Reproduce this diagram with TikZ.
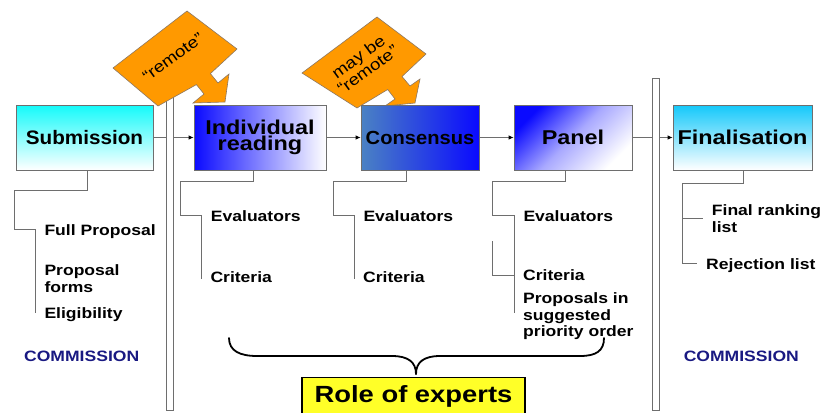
\documentclass[tikz,border=0pt]{standalone}
\usepackage{fontspec}
\setmainfont{Liberation Sans}[FakeStretch=1.17]
\newfontfamily\narrowsans{Liberation Sans}[FakeStretch=1.06]
\usetikzlibrary{arrows.meta}
\definecolor{orangefill}{RGB}{255,153,0}
\definecolor{orangeline}{RGB}{140,120,100}
\definecolor{boxline}{RGB}{110,110,110}
\definecolor{treeline}{RGB}{110,110,110}
\definecolor{commblue}{RGB}{25,25,130}
\definecolor{cyanA}{RGB}{20,250,250}
\definecolor{skyA}{RGB}{20,200,250}
\definecolor{steelA}{RGB}{75,130,195}
\definecolor{blueA}{RGB}{10,10,255}
\definecolor{yellowA}{RGB}{255,255,40}
\begin{document}
\begin{tikzpicture}[x=1pt,y=-1pt,
  stage/.style={draw=boxline, line width=0.8pt, minimum height=65pt, inner sep=0pt, align=center,
    font=\bfseries\fontsize{20}{16.5}\selectfont},
  bar/.style={draw=boxline, fill=white, line width=0.8pt, minimum width=7pt, inner sep=0pt},
  conn/.style={draw=treeline, line width=0.8pt},
  arr/.style={-{Latex[length=5pt,width=4.5pt,color=black]}},
  tree/.style={draw=treeline, line width=0.8pt},
  lbl/.style={anchor=base west, inner sep=0pt, font=\bfseries\fontsize{15}{16.7}\selectfont},
  mlbl/.style={anchor=north west, inner sep=0pt, align=left, font=\bfseries\fontsize{15}{16.7}\selectfont},
  comm/.style={anchor=base, inner sep=0pt, text=commblue, font=\bfseries\fontsize{15}{16.7}\selectfont},
  callout/.style={fill=orangefill, draw=orangeline, line width=0.6pt, line join=miter},
  callouttext/.style={inner sep=0pt, align=center, rotate=36, font=\fontsize{16}{16}\selectfont},
  rolebox/.style={draw=black, line width=1.3pt, fill=yellowA, minimum width=223pt, minimum height=38pt,
    inner sep=0pt, font=\bfseries\fontsize{23.4}{24}\selectfont},
  bracestyle/.style={draw=black, line width=1.8pt, line cap=round}
]
\useasboundingbox (0,0) rectangle (826,412);

% double bars
\node[bar, minimum height=315pt] (bar1) at (170.2,252.5) {};
\node[bar, minimum height=332pt] (bar2) at (655.5,244) {};

% orange callouts
\draw[callout] (113,68) -- (187,11) -- (237,49) -- (210.4,73.6) -- (218,83) -- (229,74)
  -- (225,102) -- (193,103) -- (204,94) -- (196.4,84.6) -- (158,106) -- cycle;
\node[callouttext] (remote1) at (173,57) {“remote”};

\draw[callout] (302,73) -- (377,17) -- (426,54) -- (402,76.5) -- (410,86) -- (420,79)
  -- (415,103) -- (385,106) -- (395,99) -- (387.7,89.5) -- (357,108) -- cycle;
\node[callouttext] (remote2) at (363,63) {may be\\“remote”};

% stage boxes
\node[stage, minimum width=137pt, top color=cyanA, bottom color=white] (sub) at (84.5,137.5)
  {\narrowsans\fontsize{19.5}{20}\selectfont Submission};
\node[stage, minimum width=132pt, left color=blueA, right color=white, middle color=blueA!50!white] (ind) at (260,137.5)
  {Individual\\reading};
\node[stage, minimum width=118pt, left color=steelA, right color=blueA] (cons) at (420,137.5)
  {\narrowsans\fontsize{19}{20}\selectfont Consensus};
\node[stage, minimum width=118pt, top color=blueA, bottom color=white, middle color=blueA!35!white, shading angle=45] (pan) at (573,137.5)
  {Panel};
\node[stage, minimum width=139pt, top color=skyA, bottom color=white] (fin) at (742.5,137.5)
  {Finalisation};

% main connectors
\draw[conn] (sub.east) -- (sub.east -| bar1.west);
\draw[conn, arr] (sub.east -| bar1.east) -- (ind.west);
\draw[conn, arr] (ind.east) -- (cons.west);
\draw[conn, arr] (cons.east) -- (pan.west);
\draw[conn] (pan.east) -- (pan.east -| bar2.west);
\draw[conn, arr] (pan.east -| bar2.east) -- (fin.west);

% tree lines
\draw[tree] ([xshift=2.5pt]sub.south) |- (14,190) |- (35,229) -- (35,313);
\draw[tree] ([xshift=-6.7pt]ind.south) |- (180,181.7) |- (201.7,215.7) -- (201.7,279);
\draw[tree] ([xshift=-14pt]cons.south) |- (333.3,181.7) |- (354.3,215.7) -- (354.3,279);
\draw[tree] ([xshift=-7.3pt]pan.south) |- (492.7,181.7) |- (514,215.7) -- (514,313.3);
\draw[tree] (492.7,241) |- (514,275);
\draw[tree] ([xshift=1pt]fin.south) |- (682.3,183.3) |- (696.7,263.3);
\draw[tree] (682.3,218.3) -- (703.3,218.3);

% labels
\node[lbl] (fp) at (44.3,235) {Full Proposal};
\node[mlbl] (pf) at (44.3,264.4) {Proposal\\forms};
\node[lbl] (el) at (44.3,318.5) {Eligibility};
\node[comm] (comm1) at (81.7,361.5) {COMMISSION};

\node[lbl] (ev1) at (210.7,221.7) {Evaluators};
\node[lbl] (cr1) at (210.3,282.3) {Criteria};
\node[lbl] (ev2) at (363.3,221.7) {Evaluators};
\node[lbl] (cr2) at (363,282.3) {Criteria};
\node[lbl] (ev3) at (523.3,221.7) {Evaluators};
\node[lbl] (cr3) at (523,280.5) {Criteria};
\node[mlbl] (prop) at (523,292.4) {Proposals in\\suggested\\priority order};

\node[mlbl] (frl) at (711.7,204.4) {Final ranking\\list};
\node[lbl] (rej) at (706,269.3) {Rejection list};
\node[comm] (comm2) at (741.3,361.5) {COMMISSION};

% brace
\draw[bracestyle] (229,338) .. controls (229,351) and (240,356) .. (257,356) -- (392,356)
  .. controls (408,356) and (416,362) .. (416,374);
\draw[bracestyle] (416,374) .. controls (416,362) and (424,356) .. (440,356) -- (580,356)
  .. controls (596,356) and (604,351) .. (604,338);

% role box
\node[rolebox] (role) at (413.5,396.7) {Role of experts};
\end{tikzpicture}
\end{document}
